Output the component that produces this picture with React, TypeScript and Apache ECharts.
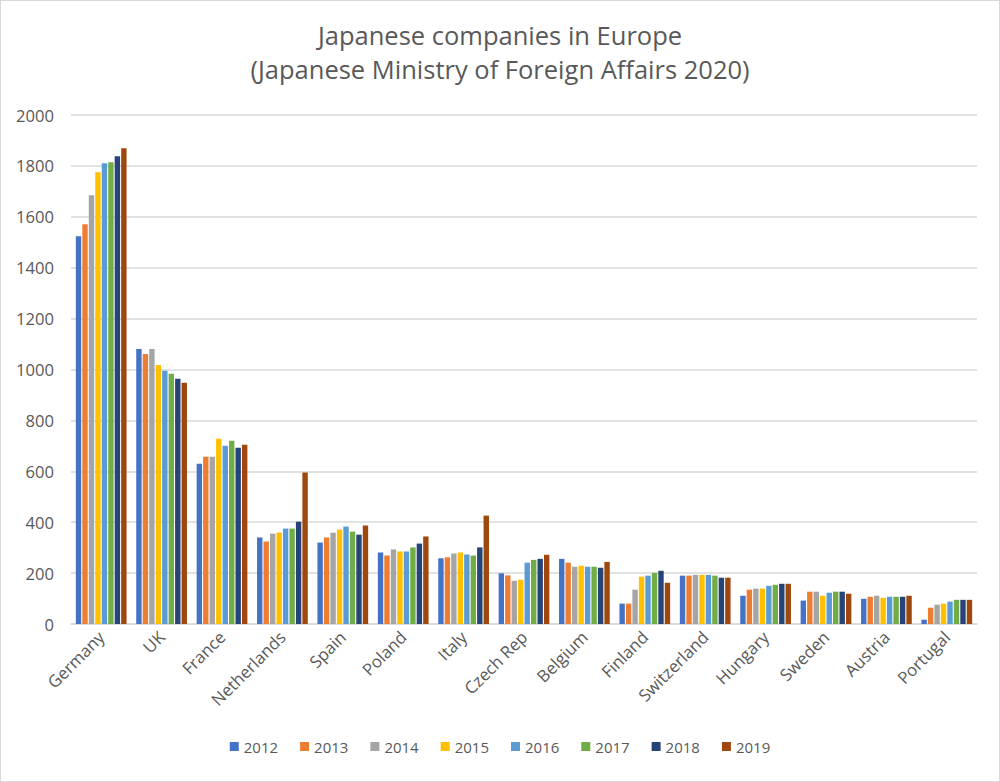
import React, { useEffect, useRef } from "react";
import * as echarts from "echarts";

const countries = ["Germany", "UK", "France", "Netherlands", "Spain", "Poland", "Italy", "Czech Rep", "Belgium", "Finland", "Switzerland", "Hungary", "Sweden", "Austria", "Portugal"];
const years = ["2012", "2013", "2014", "2015", "2016", "2017", "2018", "2019"];

const germany = [1524, 1571, 1685, 1775, 1810, 1814, 1838, 1869];
const uk = [1081, 1061, 1081, 1018, 995, 983, 964, 948];
const france = [630, 657, 657, 728, 700, 720, 693, 704];
const netherlands = [340, 324, 355, 359, 375, 375, 402, 595];
const spain = [320, 340, 359, 371, 383, 363, 351, 387];
const poland = [281, 269, 293, 285, 285, 301, 316, 344];
const italy = [258, 262, 277, 281, 273, 269, 301, 426];
const czech = [199, 191, 170, 174, 241, 252, 256, 272];
const belgium = [256, 241, 225, 229, 225, 225, 221, 244];
const finland = [80, 80, 135, 186, 190, 201, 209, 162];
const switzerland = [190, 190, 193, 193, 193, 190, 182, 182];
const hungary = [111, 135, 139, 139, 150, 154, 158, 158];
const sweden = [92, 127, 127, 111, 123, 127, 127, 119];
const austria = [99, 107, 111, 103, 107, 107, 107, 111];
const portugal = [17, 64, 76, 80, 88, 95, 95, 95];

const byCountry = [germany, uk, france, netherlands, spain, poland, italy, czech, belgium, finland, switzerland, hungary, sweden, austria, portugal];
const colors = ["#4472C4", "#ED7D31", "#A5A5A5", "#FFC000", "#5B9BD5", "#70AD47", "#264478", "#9E480E"];

const FONT = "'Open Sans', 'Noto Sans', sans-serif";
const TXT = "#595959";

export default function App() {
  const ref = useRef<HTMLDivElement>(null);
  useEffect(() => {
    if (!ref.current) return;
    const chart = echarts.init(ref.current, undefined, { renderer: "svg" });
    chart.setOption({
      animation: false,
      backgroundColor: "#ffffff",
      textStyle: { fontFamily: FONT },
      title: {
        text: "Japanese companies in Europe\n(Japanese Ministry of Foreign Affairs 2020)",
        left: "center",
        top: 12,
        textStyle: { fontFamily: FONT, fontSize: 25.5, fontWeight: "normal", color: TXT, lineHeight: 34 },
      },
      legend: {
        bottom: 22,
        left: "center",
        itemWidth: 9,
        itemHeight: 9,
        itemGap: 22,
        icon: "rect",
        textStyle: { fontFamily: FONT, fontSize: 15, color: TXT },
        data: years,
      },
      grid: { left: 70, right: 22, top: 114, bottom: 157, containLabel: false },
      xAxis: {
        type: "category",
        data: countries,
        axisLine: { lineStyle: { color: "#D9D9D9", width: 1.5 } },
        axisTick: { show: false },
        axisLabel: { rotate: 45, fontFamily: FONT, fontSize: 16.8, color: TXT, margin: 10, interval: 0 },
      },
      yAxis: {
        type: "value",
        min: 0,
        max: 2000,
        interval: 200,
        axisLine: { show: false },
        axisTick: { show: false },
        splitLine: { lineStyle: { color: "#D9D9D9", width: 1.5 } },
        axisLabel: { fontFamily: FONT, fontSize: 16.6, color: TXT, margin: 17, formatter: (v: number) => String(v) },
      },
      series: years.map((y, i) => ({
        name: y,
        type: "bar",
        data: byCountry.map((c) => c[i]),
        itemStyle: { color: colors[i] },
        barGap: "20%",
        barCategoryGap: "16%",
      })),
    });
    return () => chart.dispose();
  }, []);
  return (
    <div
      ref={ref}
      style={{ position: "fixed", left: 0, top: 0, width: 1000, height: 782, boxSizing: "border-box", border: "1px solid #D9D9D9" }}
    />
  );
}
